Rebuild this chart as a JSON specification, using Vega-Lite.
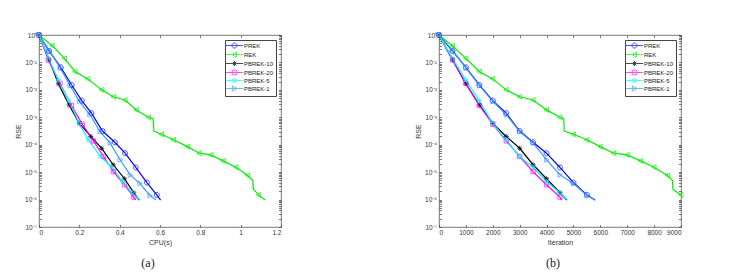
{
  "$schema": "https://vega.github.io/schema/vega-lite/v6.json",
  "padding": {"left": 14, "top": 30, "right": 0, "bottom": 0},
  "spacing": 132,
  "config": {
    "font": "Liberation Sans",
    "view": {"stroke": "#555555", "strokeWidth": 0.8},
    "axis": {
      "domain": false,
      "grid": false,
      "tickColor": "#444444",
      "tickWidth": 0.7,
      "tickSize": -2.5,
      "labelFont": "Liberation Sans",
      "labelFontSize": 6.5,
      "labelColor": "#333333",
      "labelPadding": 5,
      "labelOverlap": false,
      "titleFont": "Liberation Sans",
      "titleFontSize": 7,
      "titleFontWeight": "normal",
      "titleColor": "#333333"
    },
    "legend": {
      "orient": "top-right",
      "offset": 5,
      "strokeColor": "#444444",
      "fillColor": "#ffffff",
      "padding": 2,
      "labelFont": "Liberation Sans",
      "labelFontSize": 6,
      "labelColor": "#222222",
      "labelOffset": 6,
      "symbolOffset": 4,
      "symbolSize": 36,
      "symbolStrokeWidth": 1,
      "rowPadding": -5.5
    }
  },
  "datasets": {
    "d": [
      {"series":"PREK","iter":0,"cpu":0,"rse":1},
      {"series":"PREK","iter":500,"cpu":0.05,"rse":0.263},
      {"series":"PREK","iter":1000,"cpu":0.108,"rse":0.0661},
      {"series":"PREK","iter":1500,"cpu":0.162,"rse":0.0151},
      {"series":"PREK","iter":2000,"cpu":0.212,"rse":0.00407},
      {"series":"PREK","iter":2500,"cpu":0.26,"rse":0.00141},
      {"series":"PREK","iter":3000,"cpu":0.315,"rse":3.16e-4},
      {"series":"PREK","iter":3500,"cpu":0.376,"rse":1.23e-4},
      {"series":"PREK","iter":4000,"cpu":0.427,"rse":4.9e-5},
      {"series":"PREK","iter":4500,"cpu":0.48,"rse":1.48e-5},
      {"series":"PREK","iter":5000,"cpu":0.535,"rse":4.17e-6},
      {"series":"PREK","iter":5500,"cpu":0.584,"rse":1.48e-6},
      {"series":"PREK","iter":5800,"cpu":0.603,"rse":9.6e-7},
      {"series":"REK","iter":0,"cpu":0,"rse":1},
      {"series":"REK","iter":500,"cpu":0.066,"rse":0.407},
      {"series":"REK","iter":1000,"cpu":0.126,"rse":0.141},
      {"series":"REK","iter":1500,"cpu":0.179,"rse":0.0468},
      {"series":"REK","iter":2000,"cpu":0.242,"rse":0.0251},
      {"series":"REK","iter":2500,"cpu":0.311,"rse":0.01},
      {"series":"REK","iter":3000,"cpu":0.369,"rse":0.00562},
      {"series":"REK","iter":3500,"cpu":0.427,"rse":0.00427},
      {"series":"REK","iter":4000,"cpu":0.483,"rse":0.00186},
      {"series":"REK","iter":4500,"cpu":0.543,"rse":0.001},
      {"series":"REK","iter":4640,"cpu":0.566,"rse":8.91e-4},
      {"series":"REK","iter":4660,"cpu":0.57,"rse":3.16e-4},
      {"series":"REK","iter":5000,"cpu":0.608,"rse":2.4e-4},
      {"series":"REK","iter":5500,"cpu":0.667,"rse":1.51e-4},
      {"series":"REK","iter":6000,"cpu":0.737,"rse":8.51e-5},
      {"series":"REK","iter":6500,"cpu":0.795,"rse":4.9e-5},
      {"series":"REK","iter":7000,"cpu":0.853,"rse":4.27e-5},
      {"series":"REK","iter":7500,"cpu":0.914,"rse":2.57e-5},
      {"series":"REK","iter":8000,"cpu":0.977,"rse":1.51e-5},
      {"series":"REK","iter":8500,"cpu":1.035,"rse":7.59e-6},
      {"series":"REK","iter":8680,"cpu":1.06,"rse":5.01e-6},
      {"series":"REK","iter":8700,"cpu":1.063,"rse":2.4e-6},
      {"series":"REK","iter":9000,"cpu":1.089,"rse":1.48e-6},
      {"series":"REK","iter":9300,"cpu":1.121,"rse":9.6e-7},
      {"series":"PBREK-10","iter":0,"cpu":0,"rse":1},
      {"series":"PBREK-10","iter":500,"cpu":0.05,"rse":0.126},
      {"series":"PBREK-10","iter":1000,"cpu":0.096,"rse":0.0166},
      {"series":"PBREK-10","iter":1500,"cpu":0.149,"rse":0.00282},
      {"series":"PBREK-10","iter":2000,"cpu":0.2,"rse":6.03e-4},
      {"series":"PBREK-10","iter":2500,"cpu":0.257,"rse":2.0e-4},
      {"series":"PBREK-10","iter":3000,"cpu":0.311,"rse":7.41e-5},
      {"series":"PBREK-10","iter":3500,"cpu":0.368,"rse":1.86e-5},
      {"series":"PBREK-10","iter":4000,"cpu":0.424,"rse":5.75e-6},
      {"series":"PBREK-10","iter":4500,"cpu":0.47,"rse":1.78e-6},
      {"series":"PBREK-10","iter":4750,"cpu":0.497,"rse":9.6e-7},
      {"series":"PBREK-20","iter":0,"cpu":0,"rse":1},
      {"series":"PBREK-20","iter":500,"cpu":0.046,"rse":0.123},
      {"series":"PBREK-20","iter":1000,"cpu":0.104,"rse":0.0174},
      {"series":"PBREK-20","iter":1500,"cpu":0.161,"rse":0.00269},
      {"series":"PBREK-20","iter":2000,"cpu":0.215,"rse":5.62e-4},
      {"series":"PBREK-20","iter":2500,"cpu":0.27,"rse":1.38e-4},
      {"series":"PBREK-20","iter":3000,"cpu":0.32,"rse":3.72e-5},
      {"series":"PBREK-20","iter":3500,"cpu":0.369,"rse":1.05e-5},
      {"series":"PBREK-20","iter":4000,"cpu":0.424,"rse":3.47e-6},
      {"series":"PBREK-20","iter":4500,"cpu":0.47,"rse":1.23e-6},
      {"series":"PBREK-20","iter":4560,"cpu":0.478,"rse":9.6e-7},
      {"series":"PBREK-5","iter":0,"cpu":0,"rse":1},
      {"series":"PBREK-5","iter":500,"cpu":0.048,"rse":0.141},
      {"series":"PBREK-5","iter":1000,"cpu":0.096,"rse":0.0229},
      {"series":"PBREK-5","iter":1500,"cpu":0.149,"rse":0.00398},
      {"series":"PBREK-5","iter":2000,"cpu":0.199,"rse":6.03e-4},
      {"series":"PBREK-5","iter":2500,"cpu":0.245,"rse":1.51e-4},
      {"series":"PBREK-5","iter":3000,"cpu":0.306,"rse":3.72e-5},
      {"series":"PBREK-5","iter":3500,"cpu":0.361,"rse":1.51e-5},
      {"series":"PBREK-5","iter":4000,"cpu":0.414,"rse":4.57e-6},
      {"series":"PBREK-5","iter":4500,"cpu":0.464,"rse":1.74e-6},
      {"series":"PBREK-5","iter":4780,"cpu":0.502,"rse":9.6e-7},
      {"series":"PBREK-1","iter":0,"cpu":0,"rse":1},
      {"series":"PBREK-1","iter":500,"cpu":0.05,"rse":0.282},
      {"series":"PBREK-1","iter":1000,"cpu":0.105,"rse":0.0631},
      {"series":"PBREK-1","iter":1500,"cpu":0.154,"rse":0.0145},
      {"series":"PBREK-1","iter":2000,"cpu":0.2,"rse":0.0038},
      {"series":"PBREK-1","iter":2500,"cpu":0.252,"rse":0.00126},
      {"series":"PBREK-1","iter":3000,"cpu":0.303,"rse":3.02e-4},
      {"series":"PBREK-1","iter":3500,"cpu":0.352,"rse":1.17e-4},
      {"series":"PBREK-1","iter":4000,"cpu":0.402,"rse":2.82e-5},
      {"series":"PBREK-1","iter":4500,"cpu":0.452,"rse":7.94e-6},
      {"series":"PBREK-1","iter":5000,"cpu":0.5,"rse":3.89e-6},
      {"series":"PBREK-1","iter":5500,"cpu":0.55,"rse":1.41e-6},
      {"series":"PBREK-1","iter":5820,"cpu":0.58,"rse":9.6e-7}
    ]
  },
  "resolve": {"scale": {"x": "independent", "y": "independent", "color": "independent", "shape": "independent"}, "legend": {"color": "independent", "shape": "independent"}},
  "hconcat": [
    {
      "width": 242,
      "height": 192,
      "data": {"name": "d"},
      "title": {"text": "(a)", "orient": "bottom", "font": "Liberation Serif", "fontSize": 12, "fontWeight": "normal", "color": "#1a1a1a", "offset": 13, "dx": -12},
      "resolve": {"axis": {"x": "independent", "y": "independent"}},
      "layer": [
        {
          "mark": {"type": "line", "strokeWidth": 1.2, "clip": true},
          "encoding": {
            "x": {"field": "cpu", "type": "quantitative", "scale": {"domain": [0, 1.2], "nice": false, "zero": false},
                  "axis": {"orient": "bottom", "title": "CPU(s)", "values": [0, 0.2, 0.4, 0.6, 0.8, 1, 1.2], "format": "~g", "titlePadding": 2}},
            "y": {"field": "rse", "type": "quantitative", "scale": {"type": "log", "domain": [1e-7, 1], "nice": false},
                  "axis": {"orient": "left", "title": "RSE", "titlePadding": 3,
                           "values": [1e-7,2e-7,3e-7,4e-7,5e-7,6e-7,7e-7,8e-7,9e-7,1e-6,2e-6,3e-6,4e-6,5e-6,6e-6,7e-6,8e-6,9e-6,1e-5,2e-5,3e-5,4e-5,5e-5,6e-5,7e-5,8e-5,9e-5,1e-4,2e-4,3e-4,4e-4,5e-4,6e-4,7e-4,8e-4,9e-4,0.001,0.002,0.003,0.004,0.005,0.006,0.007,0.008,0.009,0.01,0.02,0.03,0.04,0.05,0.06,0.07,0.08,0.09,0.1,0.2,0.3,0.4,0.5,0.6,0.7,0.8,0.9,1],
                           "labelExpr": "abs(log(datum.value)/LN10 - round(log(datum.value)/LN10)) < 0.01 ? '10' + ['⁰','⁻¹','⁻²','⁻³','⁻⁴','⁻⁵','⁻⁶','⁻⁷'][round(-log(datum.value)/LN10)] : ''",
                           "encode": {"ticks": {"x2": {"value": {"signal": "abs(log(datum.value)/LN10 - round(log(datum.value)/LN10)) < 0.01 ? 3 : 1.5"}}}}}},
            "color": {"field": "series", "type": "nominal", "legend": {"title": null},
                      "scale": {"domain": ["PREK", "REK", "PBREK-10", "PBREK-20", "PBREK-5", "PBREK-1"], "range": ["#0000ff", "#00ee00", "#000000", "#ff00ff", "#00ffff", "#3a9bff"]}},
            "order": {"field": "iter", "type": "quantitative"}
          }
        },
        {"transform": [{"filter": "datum.series === 'PREK' && datum.iter % 500 == 0"}],
         "mark": {"type": "point", "shape": "M1,0A1,1,0,1,1,-1,0A1,1,0,1,1,1,0Z", "filled": false, "size": 25, "strokeWidth": 1, "color": "#0000ff"},
         "encoding": {"x": {"field": "cpu", "type": "quantitative", "axis": null}, "y": {"field": "rse", "type": "quantitative", "axis": null}}},
        {"transform": [{"filter": "datum.series === 'REK' && datum.iter % 500 == 0"}],
         "mark": {"type": "point", "shape": "M-1,0L0.8,-1L0.8,1Z", "filled": false, "size": 25, "strokeWidth": 1, "color": "#00ee00"},
         "encoding": {"x": {"field": "cpu", "type": "quantitative", "axis": null}, "y": {"field": "rse", "type": "quantitative", "axis": null}}},
        {"transform": [{"filter": "datum.series === 'PBREK-10' && datum.iter % 500 == 0"}],
         "mark": {"type": "point", "shape": "M-1,0L1,0M0,-1L0,1M-0.7,-0.7L0.7,0.7M-0.7,0.7L0.7,-0.7", "filled": false, "size": 25, "strokeWidth": 1, "color": "#000000"},
         "encoding": {"x": {"field": "cpu", "type": "quantitative", "axis": null}, "y": {"field": "rse", "type": "quantitative", "axis": null}}},
        {"transform": [{"filter": "datum.series === 'PBREK-20' && datum.iter % 500 == 0"}],
         "mark": {"type": "point", "shape": "M-0.85,-0.85L0.85,-0.85L0.85,0.85L-0.85,0.85Z", "filled": false, "size": 25, "strokeWidth": 1, "color": "#ff00ff"},
         "encoding": {"x": {"field": "cpu", "type": "quantitative", "axis": null}, "y": {"field": "rse", "type": "quantitative", "axis": null}}},
        {"transform": [{"filter": "datum.series === 'PBREK-5' && datum.iter % 500 == 0"}],
         "mark": {"type": "point", "shape": "M0,-1L0.225,-0.309L0.951,-0.309L0.363,0.118L0.588,0.809L0,0.382L-0.588,0.809L-0.363,0.118L-0.951,-0.309L-0.225,-0.309Z", "filled": false, "size": 25, "strokeWidth": 1, "color": "#00ffff"},
         "encoding": {"x": {"field": "cpu", "type": "quantitative", "axis": null}, "y": {"field": "rse", "type": "quantitative", "axis": null}}},
        {"transform": [{"filter": "datum.series === 'PBREK-1' && datum.iter % 500 == 0"}],
         "mark": {"type": "point", "shape": "M1,0L-0.8,-1L-0.8,1Z", "filled": false, "size": 25, "strokeWidth": 1, "color": "#3a9bff"},
         "encoding": {"x": {"field": "cpu", "type": "quantitative", "axis": null}, "y": {"field": "rse", "type": "quantitative", "axis": null}}},
        {
          "transform": [{"filter": "false"}],
          "mark": {"type": "point", "filled": false, "strokeWidth": 1},
          "encoding": {
            "x": {"field": "cpu", "type": "quantitative",
                  "axis": {"orient": "top", "title": null, "labels": false, "values": [0, 0.2, 0.4, 0.6, 0.8, 1, 1.2]}},
            "y": {"field": "rse", "type": "quantitative",
                  "axis": {"orient": "right", "title": null, "labels": false,
                           "values": [1e-7,2e-7,3e-7,4e-7,5e-7,6e-7,7e-7,8e-7,9e-7,1e-6,2e-6,3e-6,4e-6,5e-6,6e-6,7e-6,8e-6,9e-6,1e-5,2e-5,3e-5,4e-5,5e-5,6e-5,7e-5,8e-5,9e-5,1e-4,2e-4,3e-4,4e-4,5e-4,6e-4,7e-4,8e-4,9e-4,0.001,0.002,0.003,0.004,0.005,0.006,0.007,0.008,0.009,0.01,0.02,0.03,0.04,0.05,0.06,0.07,0.08,0.09,0.1,0.2,0.3,0.4,0.5,0.6,0.7,0.8,0.9,1],
                           "encode": {"ticks": {"x2": {"value": {"signal": "abs(log(datum.value)/LN10 - round(log(datum.value)/LN10)) < 0.01 ? -3 : -1.5"}}}}}},
            "color": {"field": "series", "type": "nominal", "legend": {"title": null}},
            "shape": {"field": "series", "type": "nominal", "legend": {"title": null},
                      "scale": {"domain": ["PREK", "REK", "PBREK-10", "PBREK-20", "PBREK-5", "PBREK-1"],
                                "range": ["M-2.9,0L2.9,0M0.85,0A0.85,0.85,0,1,1,-0.85,0A0.85,0.85,0,1,1,0.85,0Z", "M-2.9,0L2.9,0M-0.85,0L0.7,-0.85L0.7,0.85Z", "M-2.9,0L2.9,0M0,-0.85L0,0.85M-0.6,-0.6L0.6,0.6M-0.6,0.6L0.6,-0.6", "M-2.9,0L2.9,0M-0.75,-0.75L0.75,-0.75L0.75,0.75L-0.75,0.75Z", "M-2.9,0L2.9,0M0,-0.9L0.2,-0.28L0.86,-0.28L0.33,0.11L0.53,0.73L0,0.34L-0.53,0.73L-0.33,0.11L-0.86,-0.28L-0.2,-0.28Z", "M-2.9,0L2.9,0M0.85,0L-0.7,-0.85L-0.7,0.85Z"]}}
          }
        }
      ]
    },
    {
      "width": 242,
      "height": 192,
      "data": {"name": "d"},
      "title": {"text": "(b)", "orient": "bottom", "font": "Liberation Serif", "fontSize": 12, "fontWeight": "normal", "color": "#1a1a1a", "offset": 13, "dx": -7},
      "resolve": {"axis": {"x": "independent", "y": "independent"}},
      "layer": [
        {
          "mark": {"type": "line", "strokeWidth": 1.2, "clip": true},
          "encoding": {
            "x": {"field": "iter", "type": "quantitative", "scale": {"domain": [0, 9000], "nice": false, "zero": false},
                  "axis": {"orient": "bottom", "title": "Iteration", "values": [0, 1000, 2000, 3000, 4000, 5000, 6000, 7000, 8000, 9000], "format": "d", "titlePadding": 2}},
            "y": {"field": "rse", "type": "quantitative", "scale": {"type": "log", "domain": [1e-7, 1], "nice": false},
                  "axis": {"orient": "left", "title": "RSE", "titlePadding": 3,
                           "values": [1e-7,2e-7,3e-7,4e-7,5e-7,6e-7,7e-7,8e-7,9e-7,1e-6,2e-6,3e-6,4e-6,5e-6,6e-6,7e-6,8e-6,9e-6,1e-5,2e-5,3e-5,4e-5,5e-5,6e-5,7e-5,8e-5,9e-5,1e-4,2e-4,3e-4,4e-4,5e-4,6e-4,7e-4,8e-4,9e-4,0.001,0.002,0.003,0.004,0.005,0.006,0.007,0.008,0.009,0.01,0.02,0.03,0.04,0.05,0.06,0.07,0.08,0.09,0.1,0.2,0.3,0.4,0.5,0.6,0.7,0.8,0.9,1],
                           "labelExpr": "abs(log(datum.value)/LN10 - round(log(datum.value)/LN10)) < 0.01 ? '10' + ['⁰','⁻¹','⁻²','⁻³','⁻⁴','⁻⁵','⁻⁶','⁻⁷'][round(-log(datum.value)/LN10)] : ''",
                           "encode": {"ticks": {"x2": {"value": {"signal": "abs(log(datum.value)/LN10 - round(log(datum.value)/LN10)) < 0.01 ? 3 : 1.5"}}}}}},
            "color": {"field": "series", "type": "nominal", "legend": {"title": null},
                      "scale": {"domain": ["PREK", "REK", "PBREK-10", "PBREK-20", "PBREK-5", "PBREK-1"], "range": ["#0000ff", "#00ee00", "#000000", "#ff00ff", "#00ffff", "#3a9bff"]}},
            "order": {"field": "iter", "type": "quantitative"}
          }
        },
        {"transform": [{"filter": "datum.series === 'PREK' && datum.iter % 500 == 0"}],
         "mark": {"type": "point", "shape": "M1,0A1,1,0,1,1,-1,0A1,1,0,1,1,1,0Z", "filled": false, "size": 25, "strokeWidth": 1, "color": "#0000ff"},
         "encoding": {"x": {"field": "iter", "type": "quantitative", "axis": null}, "y": {"field": "rse", "type": "quantitative", "axis": null}}},
        {"transform": [{"filter": "datum.series === 'REK' && datum.iter % 500 == 0"}],
         "mark": {"type": "point", "shape": "M-1,0L0.8,-1L0.8,1Z", "filled": false, "size": 25, "strokeWidth": 1, "color": "#00ee00"},
         "encoding": {"x": {"field": "iter", "type": "quantitative", "axis": null}, "y": {"field": "rse", "type": "quantitative", "axis": null}}},
        {"transform": [{"filter": "datum.series === 'PBREK-10' && datum.iter % 500 == 0"}],
         "mark": {"type": "point", "shape": "M-1,0L1,0M0,-1L0,1M-0.7,-0.7L0.7,0.7M-0.7,0.7L0.7,-0.7", "filled": false, "size": 25, "strokeWidth": 1, "color": "#000000"},
         "encoding": {"x": {"field": "iter", "type": "quantitative", "axis": null}, "y": {"field": "rse", "type": "quantitative", "axis": null}}},
        {"transform": [{"filter": "datum.series === 'PBREK-20' && datum.iter % 500 == 0"}],
         "mark": {"type": "point", "shape": "M-0.85,-0.85L0.85,-0.85L0.85,0.85L-0.85,0.85Z", "filled": false, "size": 25, "strokeWidth": 1, "color": "#ff00ff"},
         "encoding": {"x": {"field": "iter", "type": "quantitative", "axis": null}, "y": {"field": "rse", "type": "quantitative", "axis": null}}},
        {"transform": [{"filter": "datum.series === 'PBREK-5' && datum.iter % 500 == 0"}],
         "mark": {"type": "point", "shape": "M0,-1L0.225,-0.309L0.951,-0.309L0.363,0.118L0.588,0.809L0,0.382L-0.588,0.809L-0.363,0.118L-0.951,-0.309L-0.225,-0.309Z", "filled": false, "size": 25, "strokeWidth": 1, "color": "#00ffff"},
         "encoding": {"x": {"field": "iter", "type": "quantitative", "axis": null}, "y": {"field": "rse", "type": "quantitative", "axis": null}}},
        {"transform": [{"filter": "datum.series === 'PBREK-1' && datum.iter % 500 == 0"}],
         "mark": {"type": "point", "shape": "M1,0L-0.8,-1L-0.8,1Z", "filled": false, "size": 25, "strokeWidth": 1, "color": "#3a9bff"},
         "encoding": {"x": {"field": "iter", "type": "quantitative", "axis": null}, "y": {"field": "rse", "type": "quantitative", "axis": null}}},
        {
          "transform": [{"filter": "false"}],
          "mark": {"type": "point", "filled": false, "strokeWidth": 1},
          "encoding": {
            "x": {"field": "iter", "type": "quantitative",
                  "axis": {"orient": "top", "title": null, "labels": false, "values": [0, 1000, 2000, 3000, 4000, 5000, 6000, 7000, 8000, 9000]}},
            "y": {"field": "rse", "type": "quantitative",
                  "axis": {"orient": "right", "title": null, "labels": false,
                           "values": [1e-7,2e-7,3e-7,4e-7,5e-7,6e-7,7e-7,8e-7,9e-7,1e-6,2e-6,3e-6,4e-6,5e-6,6e-6,7e-6,8e-6,9e-6,1e-5,2e-5,3e-5,4e-5,5e-5,6e-5,7e-5,8e-5,9e-5,1e-4,2e-4,3e-4,4e-4,5e-4,6e-4,7e-4,8e-4,9e-4,0.001,0.002,0.003,0.004,0.005,0.006,0.007,0.008,0.009,0.01,0.02,0.03,0.04,0.05,0.06,0.07,0.08,0.09,0.1,0.2,0.3,0.4,0.5,0.6,0.7,0.8,0.9,1],
                           "encode": {"ticks": {"x2": {"value": {"signal": "abs(log(datum.value)/LN10 - round(log(datum.value)/LN10)) < 0.01 ? -3 : -1.5"}}}}}},
            "color": {"field": "series", "type": "nominal", "legend": {"title": null}},
            "shape": {"field": "series", "type": "nominal", "legend": {"title": null},
                      "scale": {"domain": ["PREK", "REK", "PBREK-10", "PBREK-20", "PBREK-5", "PBREK-1"],
                                "range": ["M-2.9,0L2.9,0M0.85,0A0.85,0.85,0,1,1,-0.85,0A0.85,0.85,0,1,1,0.85,0Z", "M-2.9,0L2.9,0M-0.85,0L0.7,-0.85L0.7,0.85Z", "M-2.9,0L2.9,0M0,-0.85L0,0.85M-0.6,-0.6L0.6,0.6M-0.6,0.6L0.6,-0.6", "M-2.9,0L2.9,0M-0.75,-0.75L0.75,-0.75L0.75,0.75L-0.75,0.75Z", "M-2.9,0L2.9,0M0,-0.9L0.2,-0.28L0.86,-0.28L0.33,0.11L0.53,0.73L0,0.34L-0.53,0.73L-0.33,0.11L-0.86,-0.28L-0.2,-0.28Z", "M-2.9,0L2.9,0M0.85,0L-0.7,-0.85L-0.7,0.85Z"]}}
          }
        }
      ]
    }
  ]
}
